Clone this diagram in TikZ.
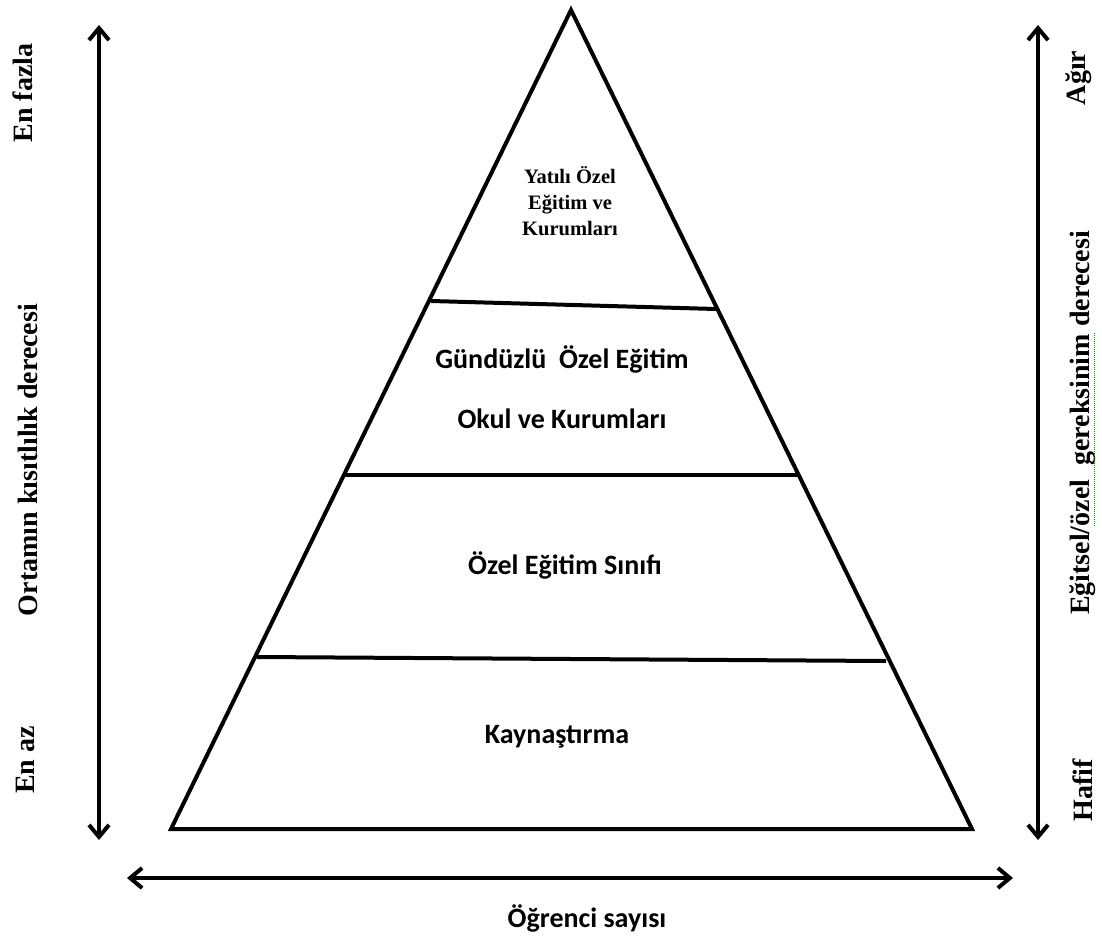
\documentclass[tikz,border=0pt]{standalone}
\usepackage{fontspec}
\setmainfont{Liberation Serif}
\newfontfamily\calibri{Carlito}
\usetikzlibrary{arrows.meta,positioning,calc}
\tikzset{
  >={Straight Barb[length=12pt,width=20pt]},
  every node/.append style={font=\bfseries},
}
\begin{document}
\begin{tikzpicture}[
  x=1pt, y=-1pt,
  edge/.style={line width=4pt, line join=miter},
  divider/.style={line width=4pt},
  axis/.style={<->, line width=4pt},
  sidelabel/.style={rotate=90, inner sep=0pt, font=\bfseries\fontsize{28}{32}\selectfont},
  level/.style={align=center, inner sep=0pt, font=\calibri\bfseries\fontsize{28}{34}\selectfont},
  toplevel/.style={align=center, inner sep=0pt, font=\bfseries\fontsize{20.5}{26}\selectfont},
  squiggle/.style={densely dotted, line width=1pt, color=green!60!black}
]
\useasboundingbox (0,0) rectangle (1102,941);

% Pyramid
\coordinate (apex) at (571,10);
\coordinate (baseL) at (171,829);
\coordinate (baseR) at (972,829);
\draw[edge] (apex) -- (baseR) -- (baseL) -- cycle;

% Level dividers
\coordinate (d1L) at (431,301); \coordinate (d1R) at (716,309);
\coordinate (d2L) at (344,475); \coordinate (d2R) at (798,475);
\coordinate (d3L) at (257,657); \coordinate (d3R) at (886,661);
\draw[divider] (d1L) -- (d1R);
\draw[divider] (d2L) -- (d2R);
\draw[divider] (d3L) -- (d3R);

% Level labels
\node[toplevel] (yatili) at (570,201) {Yatılı Özel\\Eğitim ve\\Kurumları};
\node[level] (gunduzlu) at (562,387) {Gündüzlü~ Özel Eğitim\\[26pt]Okul ve Kurumları};
\node[level] (sinif) at (565,565) {Özel Eğitim Sınıfı};
\node[level] (kaynastirma) at (557,737) {Kaynaştırma};

% Axes
\coordinate (leftTop) at (99,25); \coordinate (leftBot) at (99,840);
\coordinate (rightTop) at (1038,25); \coordinate (rightBot) at (1038,840);
\coordinate (bottomL) at (127,878); \coordinate (bottomR) at (1013,878);
\draw[axis] (leftTop) -- (leftBot);
\draw[axis] (rightTop) -- (rightBot);
\draw[axis] (bottomL) -- (bottomR);

% Axis labels
\node[sidelabel] (enfazla) at (23,93) {En fazla};
\node[sidelabel] (ortam) at (28,460) {Ortamın kısıtlılık derecesi};
\node[sidelabel] (enaz) at (25,760) {En az};
\node[sidelabel] (agir) at (1079,78) {Ağır};
\node[sidelabel] (gereksinim) at (1083,423) {Eğitsel/özel~ gereksinim derecesi};
\node[sidelabel] (hafif) at (1083,790) {Hafif};
\node[level] (ogrenci) at (587,918) {Öğrenci sayısı};

% Spell-check mark
\coordinate (sqTop) at (1094,333); \coordinate (sqBot) at (1094,527);
\draw[squiggle] (sqTop) -- (sqBot);
\end{tikzpicture}
\end{document}
